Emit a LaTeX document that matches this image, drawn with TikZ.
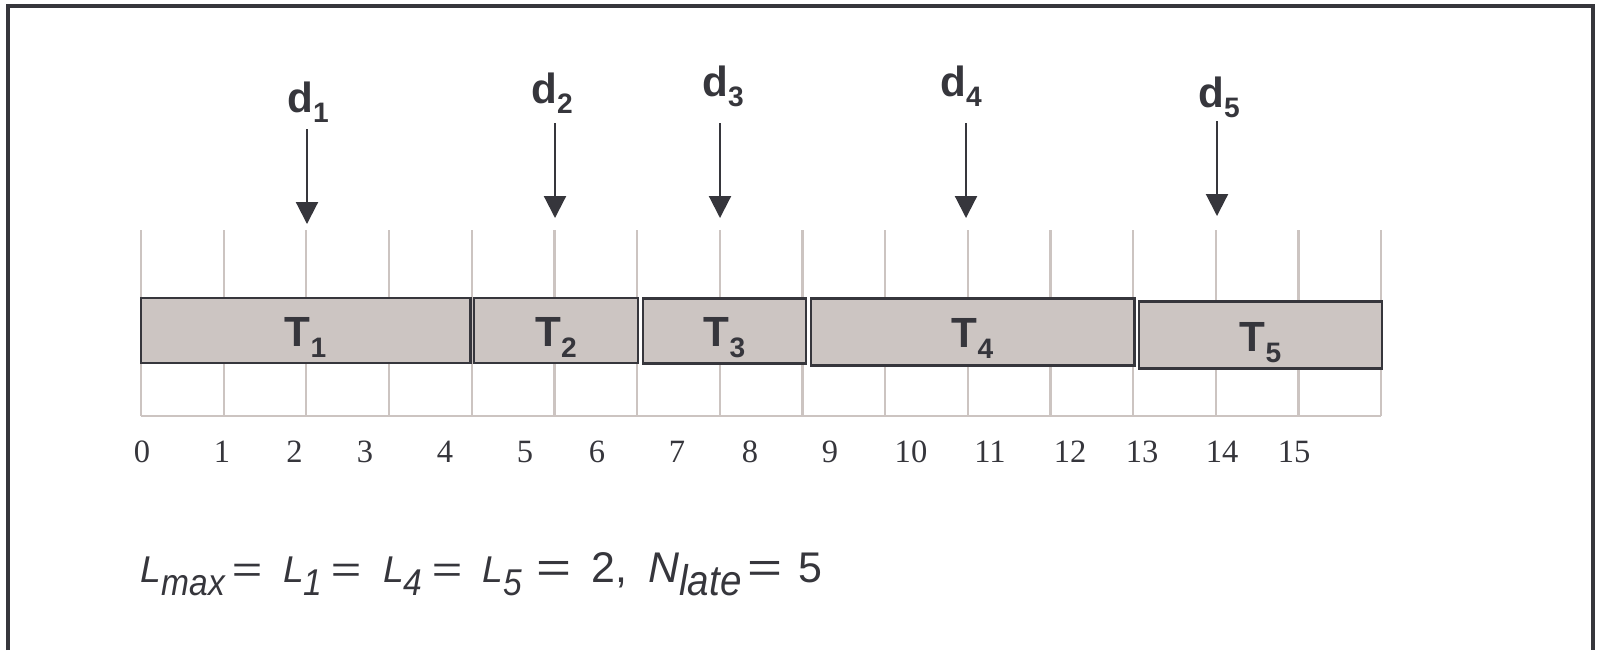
\documentclass[tikz,border=0pt]{standalone}
\usepackage{fontspec}
\setmainfont{Liberation Sans}
\newfontfamily\tickfont{Liberation Serif}
\usetikzlibrary{arrows.meta, calc}

\definecolor{ink}{RGB}{54,54,60}
\definecolor{taskfill}{RGB}{204,197,194}
\definecolor{gridgray}{RGB}{204,196,193}

\newcommand{\tsub}[1]{\raisebox{-0.11cm}{\fontsize{8}{8}\selectfont #1}}
\newcommand{\dsub}[1]{\raisebox{-0.10cm}{\fontsize{8}{8}\selectfont #1}}
\newcommand{\esub}[1]{\raisebox{-0.13cm}{\scalebox{0.9}[1]{\textit{#1}}}}
\newcommand{\eqsign}{\scalebox{1.4}[1]{=}}
\newcommand{\eqpart}[2]{\makebox[#1][l]{#2}}

\begin{document}
\begin{tikzpicture}[x=0.01cm, y=-0.01cm,
    task/.style={draw=ink, fill=taskfill, line width=0.8pt, inner sep=0pt},
    tasklab/.style={anchor=base, text=ink, font=\fontsize{12}{12}\selectfont\bfseries},
    duelab/.style={anchor=base, text=ink, font=\fontsize{12}{12}\selectfont\bfseries},
    due/.style={-{Triangle[width=0.22cm, length=0.22cm]}, draw=ink, line width=0.6pt},
    tick/.style={draw=gridgray, line width=0.65pt},
    ticklab/.style={anchor=base, text=ink, font=\tickfont\fontsize{9.25}{9.25}\selectfont},
]
  \useasboundingbox (0,0) rectangle (1600,650);

  % outer frame (open at the bottom)
  \draw[ink, line width=0.9pt] (8,650) -- (8,6) -- (1593,6) -- (1593,650);

  % time grid
  \foreach \i in {0,...,15}
    \draw[tick] (141+82.67*\i,230) -- (141+82.67*\i,416);
  \draw[tick] (141,416) -- (1381,416);

  \foreach \x/\n in {142/0, 222/1, 294.5/2, 365/3, 445/4, 525/5, 597/6, 677/7,
                     750/8, 830/9, 911/10, 990/11, 1070/12, 1142/13, 1222/14, 1294/15}
    \node[ticklab] (n\n) at (\x,462) {\n};

  % tasks
  \node[task, minimum width=3.29cm, minimum height=0.65cm] (t1) at (305.5,330.5) {};
  \node[task, minimum width=1.64cm, minimum height=0.65cm] (t2) at (556,330.5) {};
  \node[task, minimum width=1.63cm, minimum height=0.65cm] (t3) at (724.5,330.8) {};
  \node[task, minimum width=3.23cm, minimum height=0.67cm] (t4) at (972.5,331.7) {};
  \node[task, minimum width=2.43cm, minimum height=0.67cm] (t5) at (1260.5,335.3) {};

  \node[tasklab] (l1) at ($(t1.center)+(0,16)$) {T\tsub{1}};
  \node[tasklab] (l2) at ($(t2.center)+(0,16)$) {T\tsub{2}};
  \node[tasklab] (l3) at ($(t3.center)+(0,16)$) {T\tsub{3}};
  \node[tasklab] (l4) at ($(t4.center)+(0,16)$) {T\tsub{4}};
  \node[tasklab] (l5) at ($(t5.center)+(0,16)$) {T\tsub{5}};

  % due dates
  \node[duelab] (d1) at (308,112) {d\dsub{1}};
  \node[duelab] (d2) at (552,103) {d\dsub{2}};
  \node[duelab] (d3) at (723,96) {d\dsub{3}};
  \node[duelab] (d4) at (961,96) {d\dsub{4}};
  \node[duelab] (d5) at (1219,107) {d\dsub{5}};

  \coordinate (a1) at (307,129);  \coordinate (b1) at (307,224);
  \coordinate (a2) at (555,123);  \coordinate (b2) at (555,218);
  \coordinate (a3) at (720,123);  \coordinate (b3) at (720,218);
  \coordinate (a4) at (966,123);  \coordinate (b4) at (966,218);
  \coordinate (a5) at (1217,121); \coordinate (b5) at (1217,216);

  \draw[due] (a1) -- (b1);
  \draw[due] (a2) -- (b2);
  \draw[due] (a3) -- (b3);
  \draw[due] (a4) -- (b4);
  \draw[due] (a5) -- (b5);

  % result
  \node[anchor=base west, text=ink, inner sep=0pt] (res) at (140,582)
    {{\fontsize{10.6}{10.6}\selectfont%
      \eqpart{0.91cm}{\textit{L}\esub{max}}\eqpart{0.513cm}{\eqsign}%
      \eqpart{0.477cm}{\textit{L}\esub{1}}\eqpart{0.523cm}{\eqsign}%
      \eqpart{0.487cm}{\textit{L}\esub{4}}\eqpart{0.51cm}{\eqsign}%
      \eqpart{0.54cm}{\textit{L}\esub{5}}}%
     {\fontsize{12.2}{12.2}\selectfont%
      \eqpart{0.55cm}{\eqsign}\eqpart{0.563cm}{2,}%
      \eqpart{0.987cm}{\textit{N}\esub{late}}\eqpart{0.513cm}{\eqsign}5}};
\end{tikzpicture}
\end{document}
